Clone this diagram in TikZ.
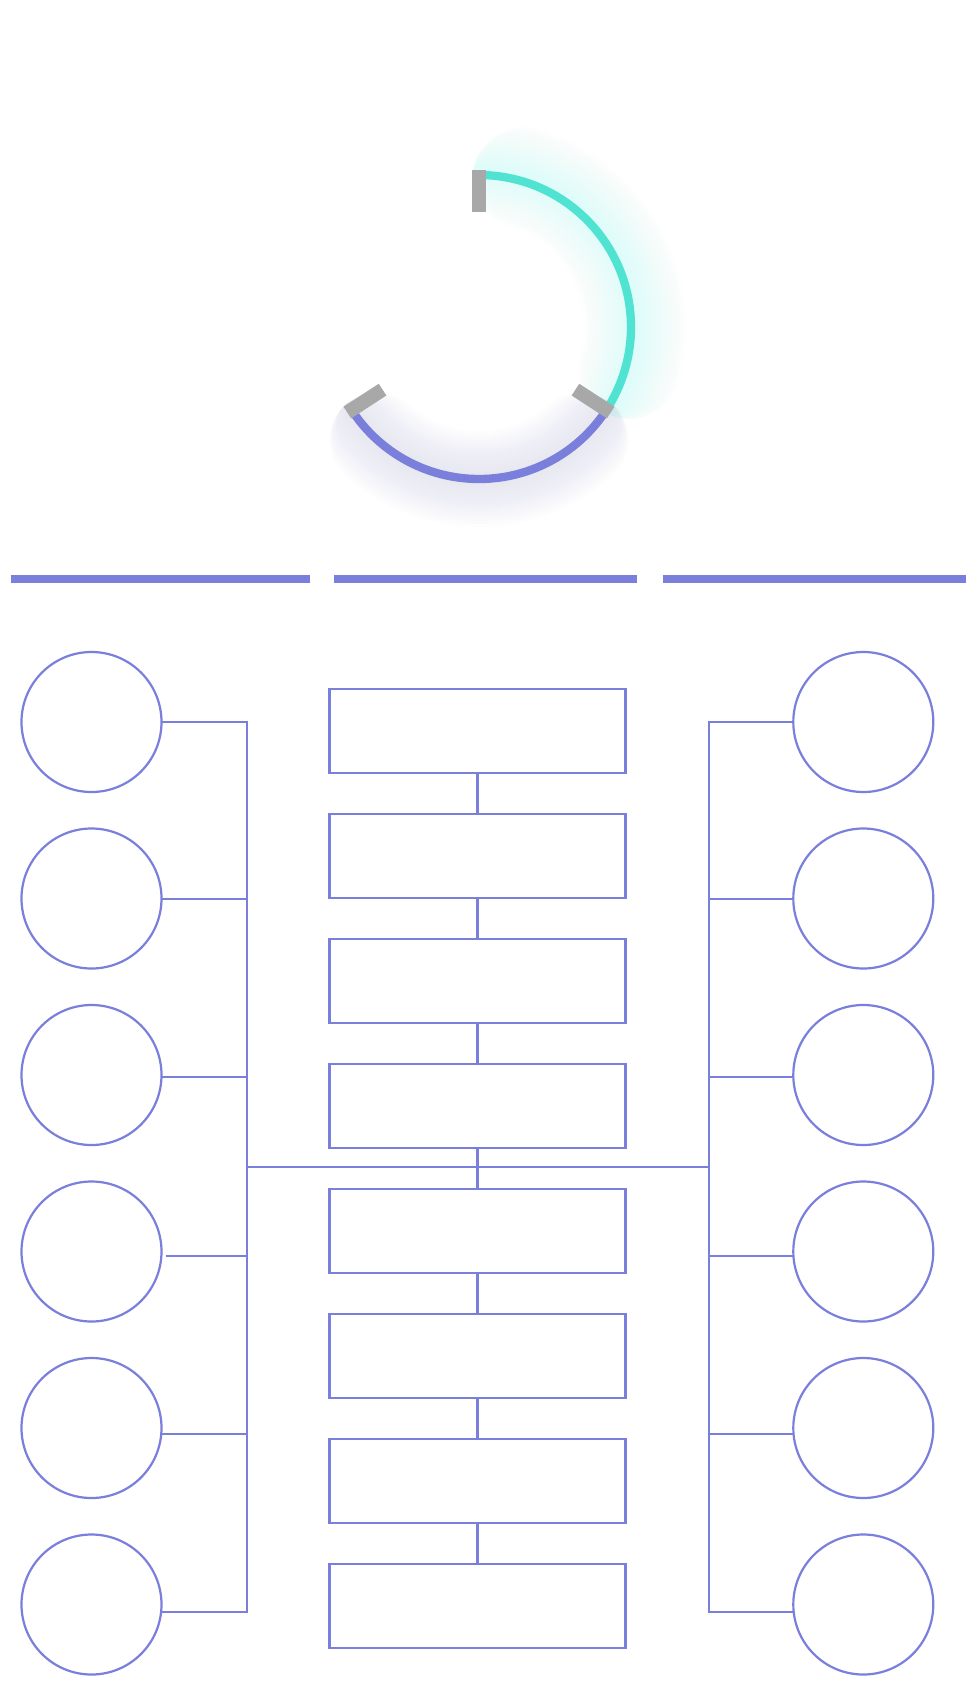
\documentclass[tikz,border=0pt]{standalone}
\usetikzlibrary{calc}
\definecolor{lav}{HTML}{7A7FDC}
\definecolor{aqua}{HTML}{50E3D2}
\definecolor{tickgray}{HTML}{A8A8A8}
\definecolor{aquaglow}{RGB}{160,252,250}
\definecolor{lavglow}{RGB}{188,190,240}
\begin{document}
\begin{tikzpicture}[x=1pt,y=-1pt,
  conn/.style={draw=lav, line width=2.2pt},
  circ/.style={circle, draw=lav, line width=2.2pt, minimum size=140pt, inner sep=0pt, outer sep=0pt},
  box/.style={rectangle, draw=lav, line width=2.2pt, minimum width=296pt, minimum height=84pt, inner sep=0pt, outer sep=0pt},
  bar/.style={draw=lav, line width=8pt},
  ring/.style={line width=8.3pt},
  glow/.style={opacity=0.02, line cap=round}]
\fill[white] (0,0) rectangle (966,1690);
\useasboundingbox (0,0) rectangle (966,1690);

% ring with glow
\begin{scope}[shift={(479,327)}, yscale=-1]
  \foreach \w [evaluate=\w as \d using \w*0.184] in {6,12,...,102}
    \draw[aquaglow, glow, line width=\w pt] ({92-\d}:156) arc[start angle={92-\d}, end angle={-34+\d}, radius=156];
  \foreach \w [evaluate=\w as \d using \w*0.189] in {6,12,...,96}
    \draw[lavglow, glow, line width=\w pt] ({-30-\d}:152) arc[start angle={-30-\d}, end angle={-150+\d}, radius=152];
  \draw[aqua, ring] (90:152) arc[start angle=90, end angle=-33, radius=152];
  \draw[lav, ring] (-33:152) arc[start angle=-33, end angle=-147, radius=152];
  \foreach \a in {90,-33,213}
    \draw[tickgray, line width=14pt] (\a:115) -- (\a:157);
\end{scope}

% header bars
\draw[bar] (10.5,579) -- (310.3,579);
\draw[bar] (334.3,579) -- (637.3,579);
\draw[bar] (662.7,579) -- (966,579);

% central boxes
\foreach \i in {1,...,8}
  \node[box] (b\i) at (477.5,{731.2+125*(\i-1)}) {};
\foreach \i/\j in {1/2,2/3,3/4,4/5,5/6,6/7,7/8}
  \draw[conn] (b\i.south) -- (b\j.north);

% circles
\foreach \i/\y in {1/722,2/898.5,3/1075,4/1251.5,5/1428,6/1604.5} {
  \node[circ] (L\i) at (91.5,\y) {};
  \node[circ] (R\i) at (863.3,\y) {};
}

% spine coordinates
\coordinate (Ls) at (247,1167);
\coordinate (Rs) at (709.3,1167);

\coordinate (lp1) at (L1.east);
\coordinate (lp2) at ($(L2.east)+(0,0.5)$);
\coordinate (lp3) at ($(L3.east)+(0,2)$);
\coordinate (lp4) at ($(L4.east)+(4,4.5)$);
\coordinate (lp5) at ($(L5.east)+(0,6)$);
\coordinate (lp6) at ($(L6.east)+(0,7.5)$);

\coordinate (rp1) at (R1.west);
\coordinate (rp2) at ($(R2.west)+(0,0.5)$);
\coordinate (rp3) at ($(R3.west)+(0,2)$);
\coordinate (rp4) at ($(R4.west)+(0,4.5)$);
\coordinate (rp5) at ($(R5.west)+(0,6)$);
\coordinate (rp6) at ($(R6.west)+(0,7.5)$);

% left tree
\draw[conn] (lp1) -- (lp1 -| Ls) -- (lp6 -| Ls) -- (lp6);
\foreach \k in {2,3,4,5}
  \draw[conn] (lp\k) -- (lp\k -| Ls);
% right tree
\draw[conn] (rp1) -- (rp1 -| Rs) -- (rp6 -| Rs) -- (rp6);
\foreach \k in {2,3,4,5}
  \draw[conn] (rp\k) -- (rp\k -| Rs);
% cross bar
\draw[conn] (Ls) -- (Rs);
\end{tikzpicture}
\end{document}
